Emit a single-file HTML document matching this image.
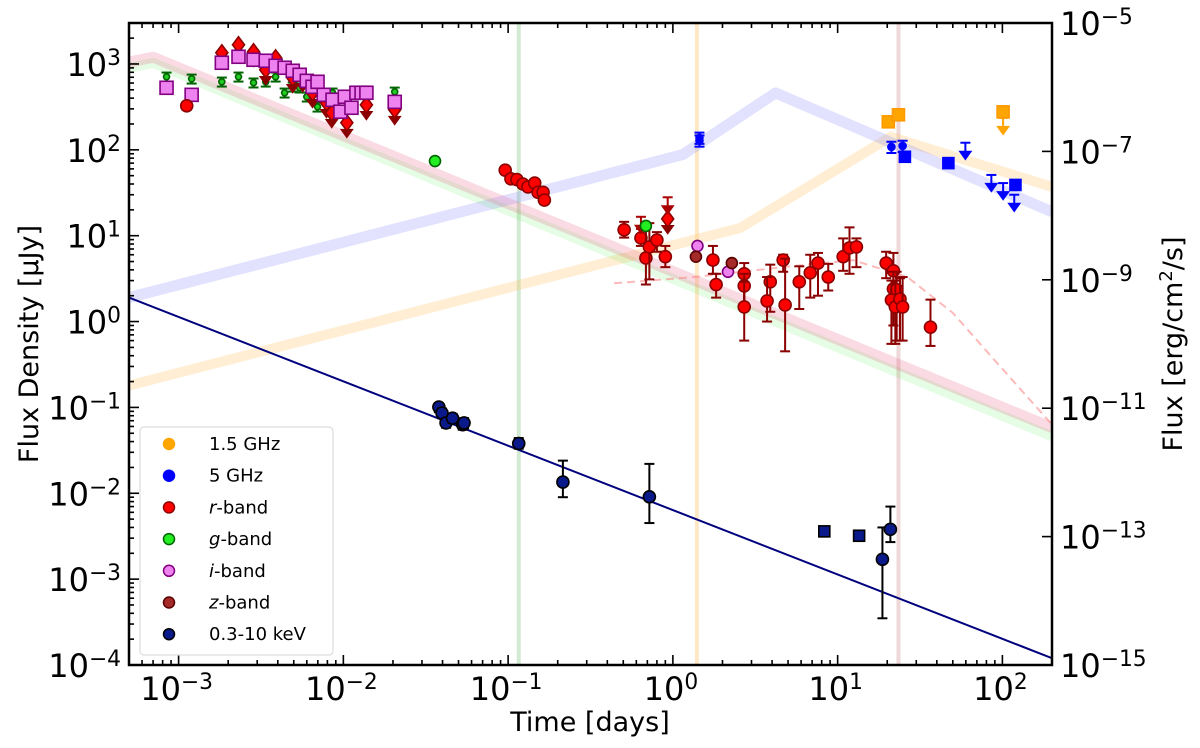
<!DOCTYPE html>
<html><head><meta charset="utf-8"><style>
html,body{margin:0;padding:0;background:#fff;}
svg{display:block;font-family:"DejaVu Sans","Liberation Sans",sans-serif;}
</style></head><body>
<svg id="chart" width="1200" height="748" viewBox="0 0 1200 748" xmlns="http://www.w3.org/2000/svg">
<g id="bg"></g><g id="models"></g><g id="marks"></g><g id="axes"></g><g id="legend"></g>
</svg>
<script>
// ---- data ----
const xrayT=[0.038,0.0397,0.042,0.046,0.053,0.054,0.116,0.215,0.72,18.7,20.9];
const xrayF=[0.101,0.086,0.066,0.075,0.063,0.066,0.038,0.0135,0.0091,0.0017,0.0038];
const xrayLo=[0.088,0.075,0.058,0.066,0.055,0.057,0.033,0.009,0.0045,0.00035,0.0027];
const xrayHi=[0.112,0.097,0.074,0.084,0.072,0.075,0.044,0.024,0.022,0.004,0.007];
const xraySqT=[8.3,13.5];
const xraySqF=[0.0036,0.0032];
const xrayModelT=[5e-4,200];
const xrayModelF=[1.9,1.2e-4];

const iSqT=[8.45e-4,1.2e-3,1.83e-3,2.31e-3,2.85e-3,3.38e-3,3.88e-3,4.4e-3,4.93e-3,5.43e-3,6.0e-3,6.5e-3,6.97e-3,7.6e-3,8.6e-3,9.6e-3,1.02e-2,1.12e-2,1.2e-2,1.29e-2,1.38e-2,2.05e-2];
const iSqF=[528,437,1033,1213,1120,1090,953,903,833,748,636,542,620,437,383,278,415,309,462,462,462,362];
const gSmT=[8.45e-4,1.2e-3,1.83e-3,2.31e-3,2.85e-3,3.38e-3,3.88e-3,4.4e-3,4.93e-3,5.43e-3,6.0e-3,6.97e-3,8.6e-3,2.05e-2];
const gSmF=[709,672,620,709,605,620,709,462,542,528,415,317,462,474];
const rDiaT=[1.83e-3,2.31e-3,2.85e-3,3.38e-3,3.88e-3,4.93e-3,5.66e-3,6.5e-3,7.9e-3,8.5e-3,1.05e-2,1.38e-2,2.05e-2,0.93];
const rDiaF=[1350,1675,1387,856,1180,690,709,462,353,270,207,334,293,15.7];
const rEarlyT=[1.12e-3,0.096,0.104,0.113,0.123,0.132,0.145,0.152,0.163,0.166];
const rEarlyF=[326,58,46,45,40,37,41,32,32,26];
const rT=[0.506,0.64,0.686,0.72,0.80,0.90,1.75,1.83,2.71,2.71,2.71,3.9,3.73,4.67,4.8,5.85,6.82,7.6,8.77,10.8,11.8,13.0,19.7,21.8,21.8,22.8,21.2,22.4,23.9,24.8,36.6];
const rF=[11.7,9.4,5.5,7.4,8.9,5.7,5.2,2.7,3.6,2.6,1.48,2.9,1.74,5.2,1.56,2.9,3.7,4.8,3.3,5.7,7.2,7.4,4.8,3.9,2.4,2.35,1.78,1.48,1.83,1.48,0.86];
const rLo=[9.5,7.6,2.7,3.1,6.5,4.3,3.6,1.9,1.5,1.5,0.6,1.3,1.0,3.8,0.45,1.4,1.9,2.0,2.3,3.9,3.6,4.3,3.2,1.5,0.9,0.6,0.55,0.55,0.6,0.6,0.52];
const rHi=[14.5,12,12,14,11,7.6,7.6,3.6,4.8,3.6,2.9,4.6,3.3,6.0,5.4,4.4,6.0,6.3,4.7,9.3,12.5,9.3,6.5,6.3,3.8,3.8,3.0,3.0,3.2,3.3,1.8];
const rUlT=[0.64,0.93];
const rUlF=[16.6,28];
const gT=[0.036,0.686];
const gF=[74,13];
const iT=[1.41,2.16];
const iF=[7.6,3.8];
const zT=[1.38,2.28];
const zF=[5.7,4.8];
const r5T=[1.45,1.45,21.2,24.8];
const r5F=[138,128,108,111];
const r5SqT=[25.6,47,120];
const r5SqF=[83,70,39];
const r5UlT=[59.6,85.7,101,118];
const r5UlF=[121,51,41,30];
const r15SqT=[20.3,23.4];
const r15SqF=[212,256];
const r15UlT=[101];
const r15UlF=[277];
const modelRT=[5e-4,7e-4,200];
const modelRF=[1050,1200,0.058];
const modelGT=[5e-4,7e-4,200];
const modelGF=[900,1030,0.046];
const modelBT=[5e-4,1.15,4.2,200];
const modelBF=[1.9,88,460,19];
const modelOT=[5e-4,2.56,21,200];
const modelOF=[0.18,12.3,142,37];
const dashT=[0.44,1.36,4.6,12.4,26.5,50,89,200];
const dashF=[2.8,3.3,4.3,5.2,3.3,1.26,0.36,0.063];
const vlineT=[0.116,1.4,23.4];
const xTickLabels=["-3","-2","-1","0","1","2"];
const yTickLabels=["3","2","1","0","-1","-2","-3","-4"];
const y2TickLabels=["-5","-7","-9","-11","-13","-15"];
const legendLabels=[["1.5 GHz",""],["5 GHz",""],["r","-band"],["g","-band"],["i","-band"],["z","-band"],["0.3-10 keV",""]];

// ---- scales ----
const L=129,R=1052,T=23,B=665;
const xMin=Math.log10(5e-4),xMax=Math.log10(200);
const yMin=-4,yMax=Math.log10(3000);
function X(v){return L+(Math.log10(v)-xMin)/(xMax-xMin)*(R-L);}
function Y(v){return B-(Math.log10(v)-yMin)/(yMax-yMin)*(B-T);}
function Y2(e){return T+(-5-e)/10*(B-T);}
const NS="http://www.w3.org/2000/svg";
function mk(tag,attrs,parent){const e=document.createElementNS(NS,tag);for(const k in attrs)e.setAttribute(k,attrs[k]);parent.appendChild(e);return e;}
const gBg=document.getElementById('bg'),gM=document.getElementById('models'),gK=document.getElementById('marks'),gA=document.getElementById('axes'),gL=document.getElementById('legend');

const defs=mk('defs',{},document.getElementById('chart'));
const cp=mk('clipPath',{id:'clip'},defs);mk('rect',{x:L,y:T,width:R-L,height:B-T},cp);
gBg.setAttribute('clip-path','url(#clip)');gM.setAttribute('clip-path','url(#clip)');

const vcol=['rgba(0,140,0,0.18)','rgba(255,190,90,0.35)','rgba(170,60,60,0.2)'];
vlineT.forEach((t,i)=>{const e=mk('line',{x1:X(t),x2:X(t),y1:T,y2:B,stroke:vcol[i],'stroke-width':4},gBg);

});

function poly(ts,fs,attrs,name){const d=ts.map((t,i)=>(i?'L':'M')+X(t).toFixed(1)+','+Y(fs[i]).toFixed(1)).join(' ');
const e=mk('path',Object.assign({d:d,fill:'none','stroke-linejoin':'round'},attrs),gM);

return e;}
poly(modelOT,modelOF,{stroke:'rgba(255,200,110,0.3)','stroke-width':10},'optical-xray-model-orange');
poly(modelBT,modelBF,{stroke:'rgba(110,110,255,0.2)','stroke-width':11},'radio-model-blue');
poly(modelGT,modelGF,{stroke:'rgba(0,230,0,0.1)','stroke-width':10},'g-band-model');
poly(modelRT,modelRF,{stroke:'rgba(230,90,130,0.22)','stroke-width':11},'r-band-model');
poly(dashT,dashF,{stroke:'rgba(250,140,140,0.6)','stroke-width':2,'stroke-dasharray':'8,5'},'dashed-model');
poly(xrayModelT,xrayModelF,{stroke:'#00007f','stroke-width':2},'xray-model-line');

function err(t,lo,hi,col,name){const x=X(t);const e=mk('g',{stroke:col,'stroke-width':2},gK);


mk('line',{x1:x,x2:x,y1:Y(lo),y2:Y(hi)},e);mk('line',{x1:x-5,x2:x+5,y1:Y(lo),y2:Y(lo)},e);mk('line',{x1:x-5,x2:x+5,y1:Y(hi),y2:Y(hi)},e);}
function circ(t,f,r,fill,stroke,name){const e=mk('circle',{cx:X(t),cy:Y(f),r:r,fill:fill,stroke:stroke,'stroke-width':1.6},gK);

}
function sq(t,f,s,fill,stroke,name){const e=mk('rect',{x:X(t)-s/2,y:Y(f)-s/2,width:s,height:s,fill:fill,stroke:stroke,'stroke-width':1.6},gK);

}
function dia(t,f,fill,stroke,name){const x=X(t),y=Y(f);const e=mk('path',{d:`M${x},${y-8} L${x+6},${y} L${x},${y+8} L${x-6},${y} Z`,fill:fill,stroke:stroke,'stroke-width':1.6},gK);

}
function ul(t,f,col,name){const x=X(t),y=Y(f);const e=mk('g',{stroke:col,fill:col,'stroke-width':2},gK);


mk('line',{x1:x-5,x2:x+5,y1:y,y2:y},e);mk('line',{x1:x,x2:x,y1:y,y2:y+12},e);mk('path',{d:`M${x-5},${y+9} L${x+5},${y+9} L${x},${y+16} Z`},e);}

gSmT.forEach((t,i)=>{err(t,gSmF[i]*0.88,gSmF[i]*1.12,'#006400','g-band-errorbar');circ(t,gSmF[i],3,'#22cc22','#006400','g-band-point');});
rDiaT.forEach((t,i)=>{ul(t,rDiaF[i]*1.05,'#8b0000','r-band-limit');dia(t,rDiaF[i],'#ff0000','#8b0000','r-band-diamond');});
iSqT.forEach((t,i)=>sq(t,iSqF[i],13,'#ee82ee','#800080','i-band-square'));
rEarlyT.forEach((t,i)=>{err(t,rEarlyF[i]*0.9,rEarlyF[i]*1.1,'#8b0000','r-band-errorbar');circ(t,rEarlyF[i],6,'#ff0000','#8b0000','r-band-point');});
rT.forEach((t,i)=>{err(t,rLo[i],rHi[i],'#8b0000','r-band-errorbar');circ(t,rF[i],6,'#ff0000','#8b0000','r-band-point');});
rUlT.forEach((t,i)=>ul(t,rUlF[i],'#aa0000','r-band-upper-limit'));
gT.forEach((t,i)=>circ(t,gF[i],5.5,'#22ee22','#006400','g-band-point'));
iT.forEach((t,i)=>circ(t,iF[i],5.5,'#ee82ee','#800080','i-band-point'));
zT.forEach((t,i)=>circ(t,zF[i],5.5,'#a52a2a','#5a0000','z-band-point'));
xrayT.forEach((t,i)=>{err(t,xrayLo[i],xrayHi[i],'#000','xray-errorbar');circ(t,xrayF[i],6,'#0a1a8a','#000','xray-point');});
xraySqT.forEach((t,i)=>sq(t,xraySqF[i],11,'#0a1a8a','#000','xray-square'));
r5T.forEach((t,i)=>{err(t,r5F[i]*0.85,r5F[i]*1.15,'#0000ff','radio-5ghz-errorbar');circ(t,r5F[i],3.5,'#0000ff','#0000ff','radio-5ghz-point');});
r5SqT.forEach((t,i)=>sq(t,r5SqF[i],11,'#0000ff','#0000ff','radio-5ghz-square'));
r5UlT.forEach((t,i)=>ul(t,r5UlF[i],'#0000ff','radio-5ghz-upper-limit'));
r15SqT.forEach((t,i)=>sq(t,r15SqF[i],12,'#ffa500','#ff9900','radio-1p5ghz-square'));
r15UlT.forEach((t,i)=>{ul(t,r15UlF[i]*0.85,'#ffa500','radio-1p5ghz-upper-limit');sq(t,r15UlF[i],12,'#ffa500','#ff9900','radio-1p5ghz-square');});

const fr=mk('rect',{x:L,y:T,width:R-L,height:B-T,fill:'none',stroke:'#000','stroke-width':2.5},gA);

function txt(x,y,base,sup,size,anchor,name){const e=mk('text',{x:x,y:y,'font-size':size,'text-anchor':anchor,fill:'#000'},gA);

const a=document.createElementNS(NS,'tspan');a.textContent=base;e.appendChild(a);
if(sup){const s=document.createElementNS(NS,'tspan');s.setAttribute('dy',-11);s.setAttribute('font-size',size*0.68);s.textContent=sup.replace('-','\u2212');e.appendChild(s);}return e;}
for(let d=-4;d<=2;d++){for(let m=1;m<10;m++){const v=m*Math.pow(10,d);if(v<5e-4||v>200)continue;const x=X(v);const len=m==1?10:5;
mk('line',{x1:x,x2:x,y1:B,y2:B-len,stroke:'#000','stroke-width':1.6},gA);mk('line',{x1:x,x2:x,y1:T,y2:T+len,stroke:'#000','stroke-width':1.6},gA);}}
xTickLabels.forEach(s=>{const v=Math.pow(10,+s);txt(X(v)-2,700,'10',s,32,'middle','x-tick-label');});
for(let d=-4;d<=3;d++){for(let m=1;m<10;m++){const v=m*Math.pow(10,d);if(Math.log10(v)>yMax)continue;const y=Y(v);const len=m==1?10:5;
mk('line',{x1:L,x2:L+len,y1:y,y2:y,stroke:'#000','stroke-width':1.6},gA);}}
yTickLabels.forEach(s=>txt(L-8,Y(Math.pow(10,+s))+12,'10',s,32,'end','y-tick-label'));
y2TickLabels.forEach(s=>{const y=Y2(+s);mk('line',{x1:R,x2:R-10,y1:y,y2:y,stroke:'#000','stroke-width':1.6},gA);txt(R+8,y+12,'10',s,32,'start','right-y-tick-label');});
const xt=mk('text',{x:590,y:731,'font-size':27,'text-anchor':'middle'},gA);xt.textContent='Time [days]';

const yt=mk('text',{x:0,y:0,'font-size':27,'text-anchor':'middle',transform:'translate(38,344) rotate(-90)'},gA);yt.textContent='Flux Density [\u03bcJy]';

const y2=mk('text',{x:0,y:0,'font-size':27,'text-anchor':'middle',transform:'translate(1182,344) rotate(-90)'},gA);

y2.innerHTML='Flux [erg/cm<tspan dy="-10" font-size="18">2</tspan><tspan dy="10">/s]</tspan>';

const lb=mk('rect',{x:140,y:427,width:193,height:228,rx:4,fill:'#fff',stroke:'#ddd','stroke-width':1.2},gL);

const lcol=[['#ffa500','#ffa500'],['#0000ff','#0000ff'],['#ff0000','#8b0000'],['#22ee22','#006400'],['#ee82ee','#800080'],['#a52a2a','#5a0000'],['#0a1a8a','#000']];
legendLabels.forEach((lab,i)=>{const y=444+i*31.7;const g=mk('g',{},gL);

mk('circle',{cx:169,cy:y,r:5.5,fill:lcol[i][0],stroke:lcol[i][1],'stroke-width':1.5},g);
const t=mk('text',{x:209,y:y+6,'font-size':18},g);
if(lab[1]){const a=document.createElementNS(NS,'tspan');a.setAttribute('font-style','italic');a.textContent=lab[0];t.appendChild(a);
const b=document.createElementNS(NS,'tspan');b.textContent=lab[1];t.appendChild(b);}else t.textContent=lab[0];});
</script>
</body></html>
